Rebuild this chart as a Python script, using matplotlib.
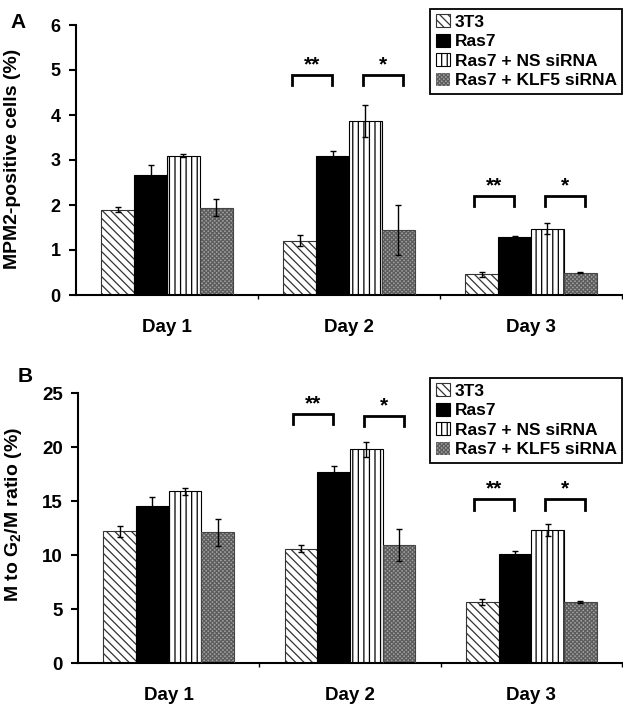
import numpy as np
import matplotlib
matplotlib.use('Agg')
import matplotlib.pyplot as plt

plt.rcParams['font.family'] = ['Liberation Sans', 'DejaVu Sans']
plt.rcParams['font.weight'] = 'bold'
plt.rcParams['mathtext.fontset'] = 'custom'
plt.rcParams['mathtext.rm'] = 'Liberation Sans:bold'
plt.rcParams['mathtext.default'] = 'rm'
plt.rcParams['hatch.linewidth'] = 0.9

# data
days = ['Day 1', 'Day 2', 'Day 3']
groups = ['3T3', 'Ras7', 'Ras7 + NS siRNA', 'Ras7 + KLF5 siRNA']

mpm2_3t3 = [1.90, 1.21, 0.46]
mpm2_ras7 = [2.67, 3.10, 1.29]
mpm2_ns = [3.10, 3.87, 1.47]
mpm2_klf5 = [1.94, 1.45, 0.50]
mpm2_err_3t3 = [0.06, 0.12, 0.05]
mpm2_err_ras7 = [0.23, 0.10, 0.02]
mpm2_err_ns = [0.04, 0.36, 0.12]
mpm2_err_klf5 = [0.19, 0.55, 0.01]

ratio_3t3 = [12.2, 10.6, 5.65]
ratio_ras7 = [14.55, 17.7, 10.1]
ratio_ns = [15.9, 19.8, 12.3]
ratio_klf5 = [12.1, 10.9, 5.65]
ratio_err_3t3 = [0.5, 0.3, 0.3]
ratio_err_ras7 = [0.8, 0.55, 0.25]
ratio_err_ns = [0.3, 0.7, 0.55]
ratio_err_klf5 = [1.25, 1.5, 0.05]

# significance brackets: (day index, pair, top y, label)
mpm2_sig = [(1, 0, 4.89, '**'), (1, 1, 4.89, '*'), (2, 0, 2.2, '**'), (2, 1, 2.2, '*')]
ratio_sig = [(1, 0, 23.1, '**'), (1, 1, 22.9, '*'), (2, 0, 15.2, '**'), (2, 1, 15.2, '*')]

styles = [
    dict(facecolor='white', edgecolor='#333333', hatch='\\\\\\\\'),
    dict(facecolor='black', edgecolor='black', hatch=None),
    dict(facecolor='white', edgecolor='black', hatch='|||'),
    dict(facecolor='#a0a0a0', edgecolor='#5c5c5c', hatch='xxxxxxxx'),
]

W = 623 / 100
H = 707 / 100
fig = plt.figure(figsize=(W, H), dpi=100)


def px_axes(left, right, top, bottom):
    return fig.add_axes([left / 623, 1 - bottom / 707, (right - left) / 623, (bottom - top) / 707])


def panel(ax, vals, errs, sig, ymax, ystep, drop, ylabel, leg_top, fs_tick, label_y):
    x = np.arange(len(days))
    w = 0.18
    handles = []
    for i, (v, e) in enumerate(zip(vals, errs)):
        xs = x + (i - 1.5) * w
        st = styles[i]
        if i == 3:
            b = ax.bar(xs, v, w, facecolor=st['facecolor'], edgecolor=st['edgecolor'],
                       hatch=st['hatch'], linewidth=0, zorder=2)
            ax.bar(xs, v, w, fill=False, edgecolor='#444444', linewidth=0.8, zorder=3)
        else:
            b = ax.bar(xs, v, w, facecolor=st['facecolor'], edgecolor=st['edgecolor'],
                       hatch=st['hatch'], linewidth=0.8, zorder=2)
        handles.append(b)
        ax.errorbar(xs, v, yerr=e, fmt='none', ecolor='black', elinewidth=1.0,
                    capsize=2.5, capthick=1.0, zorder=4)

    for d, pair, top, lab in sig:
        if pair == 0:
            x0 = d - 1.5 * w - 0.045
            x1 = d - 0.5 * w - 0.005
        else:
            x0 = d + 0.5 * w - 0.013
            x1 = d + 1.5 * w + 0.027
        ax.plot([x0, x0, x1, x1], [top - drop, top, top, top - drop], color='black',
                lw=2.0, solid_joinstyle='miter', zorder=5)
        ax.text((x0 + x1) / 2, top + drop * 0.05, lab, ha='center', va='bottom',
                fontsize=15, fontweight='bold')

    ax.set_xlim(-0.5, 2.5)
    ax.set_ylim(0, ymax)
    ax.set_yticks(np.arange(0, ymax + 0.01, ystep))
    ax.set_xticks(x)
    ax.set_xticklabels(days, fontsize=13.5, fontweight='bold')
    ax.set_xticks([0.5, 1.5, 2.5], minor=True)
    ax.tick_params(axis='x', which='major', length=0, pad=17)
    ax.tick_params(axis='x', which='minor', length=3, width=1, direction='out')
    ax.tick_params(axis='y', length=5, width=1.5, labelsize=fs_tick, pad=6)
    for t in ax.get_yticklabels():
        t.set_fontweight('bold')
    for s in ['top', 'right']:
        ax.spines[s].set_visible(False)
    for s in ['left', 'bottom']:
        ax.spines[s].set_linewidth(1.5)
    ax.set_ylabel(ylabel, fontsize=14, fontweight='bold')
    ax.yaxis.set_label_coords(-0.1, label_y)

    leg = ax.legend(handles, groups, loc='upper right', bbox_to_anchor=(622 / 623, 1 - leg_top / 707),
                    bbox_transform=fig.transFigure, fontsize=12.5, frameon=True, fancybox=False,
                    handlelength=0.8, handleheight=0.8, handletextpad=0.3, labelspacing=0.22,
                    borderpad=0.3, borderaxespad=0, framealpha=1)
    leg.get_frame().set_edgecolor('black')
    leg.get_frame().set_linewidth(1.3)
    for t in leg.get_texts():
        t.set_fontweight('bold')


ax1 = px_axes(76, 622, 25, 295)
panel(ax1, [mpm2_3t3, mpm2_ras7, mpm2_ns, mpm2_klf5],
      [mpm2_err_3t3, mpm2_err_ras7, mpm2_err_ns, mpm2_err_klf5],
      mpm2_sig, 6, 1, 0.22, 'MPM2-positive cells (%)', 9, 13, 0.505)

ax2 = px_axes(78, 622, 393, 663)
panel(ax2, [ratio_3t3, ratio_ras7, ratio_ns, ratio_klf5],
      [ratio_err_3t3, ratio_err_ras7, ratio_err_ns, ratio_err_klf5],
      ratio_sig, 25, 5, 1.0, 'M to G$_2$/M ratio (%)', 378, 13.5, 0.55)

fig.text(18 / 623, 1 - 22 / 707, 'A', fontsize=15, fontweight='bold', ha='center', va='center')
fig.text(25 / 623, 1 - 377 / 707, 'B', fontsize=15, fontweight='bold', ha='center', va='center')

fig.savefig('out.png', dpi=100)
